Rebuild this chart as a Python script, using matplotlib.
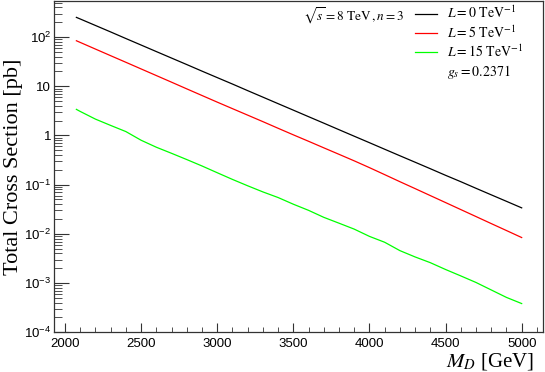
import matplotlib
matplotlib.use('Agg')
import matplotlib.pyplot as plt
from matplotlib.lines import Line2D
from matplotlib.ticker import FixedLocator, LogLocator, NullFormatter, MultipleLocator

plt.rcParams['font.family'] = ['Liberation Sans', 'DejaVu Sans']
plt.rcParams['mathtext.fontset'] = 'custom'
plt.rcParams['mathtext.rm'] = 'Liberation Sans'
plt.rcParams['mathtext.it'] = 'Liberation Sans:italic'

# M_D in GeV
m_d = [2075, 2100, 2200, 2300, 2400, 2500, 2600, 2700, 2800, 2900, 3000,
       3100, 3200, 3300, 3400, 3500, 3600, 3700, 3800, 3900, 4000,
       4100, 4200, 4300, 4400, 4500, 4600, 4700, 4800, 4900, 5000]

# total cross section in pb
xs_l0 = [251, 233, 172, 127, 93.3, 68.8, 50.7, 37.4, 27.6, 20.3, 15.0,
         11.1, 8.15, 6.01, 4.43, 3.27, 2.41, 1.78, 1.31, 0.966, 0.713,
         0.525, 0.387, 0.286, 0.211, 0.155, 0.115, 0.0844, 0.0622, 0.0459, 0.0338]
xs_l5 = [84.1, 77.8, 57.0, 41.8, 30.7, 22.5, 16.5, 12.1, 8.85, 6.49, 4.76,
         3.51, 2.59, 1.91, 1.40, 1.03, 0.762, 0.561, 0.414, 0.305, 0.222,
         0.160, 0.115, 0.0832, 0.060, 0.0433, 0.0312, 0.0225, 0.0162, 0.0117, 0.00843]
xs_l15 = [3.39, 3.08, 2.15, 1.60, 1.20, 0.80, 0.577, 0.434, 0.324, 0.240, 0.175,
          0.128, 0.095, 0.0713, 0.0548, 0.0401, 0.0301, 0.0217, 0.0165, 0.0125, 0.0089,
          0.00676, 0.00457, 0.0034, 0.0026, 0.00189, 0.0014, 0.00103, 0.000726, 0.000512, 0.000384]

y_ticks = [1e-4, 1e-3, 1e-2, 1e-1, 1, 10, 100]
y_labels = ['$10^{-4}$', '$10^{-3}$', '$10^{-2}$', '$10^{-1}$', '1', '10', '$10^{2}$']
x_ticks = [2000, 2500, 3000, 3500, 4000, 4500, 5000]

fig = plt.figure(figsize=(5.45, 3.72), dpi=100)
ax = fig.add_axes([0.0991, 0.1067, 0.8972, 0.8906])

ax.plot(m_d, xs_l0, color='black', lw=0.9)
ax.plot(m_d, xs_l5, color='#ff0000', lw=0.9)
ax.plot(m_d, xs_l15, color='#00ff00', lw=0.9)

ax.set_yscale('log')
ax.set_xlim(1928, 5140)
ax.set_ylim(1e-4, 540)

ax.yaxis.set_major_locator(FixedLocator(y_ticks))
ax.set_yticklabels(y_labels)
ax.yaxis.set_minor_locator(LogLocator(base=10, subs=range(2, 10), numticks=20))
ax.yaxis.set_minor_formatter(NullFormatter())
ax.set_xticks(x_ticks)
ax.set_xticklabels([str(v) for v in x_ticks])
ax.xaxis.set_minor_locator(MultipleLocator(100))

ax.tick_params(axis='both', which='both', direction='in', top=False, right=False,
               labelsize=9.5, color='#333333')
ax.tick_params(axis='y', which='major', length=11, pad=2)
ax.tick_params(axis='y', which='minor', length=6)
ax.tick_params(axis='x', which='major', length=6.5, pad=4)
ax.tick_params(axis='x', which='minor', length=3.3)
for sp in ax.spines.values():
    sp.set_linewidth(0.9)
    sp.set_color('#333333')

yl = ax.set_ylabel('Total Cross Section [pb]', family='Liberation Serif', fontsize=16)
ax.yaxis.set_label_coords(-0.063, 0.5)
xl = ax.set_xlabel(r'$M_D$ [GeV]', family='Liberation Serif', fontsize=15, labelpad=0)
xl.set_math_fontfamily('stix')
ax.xaxis.set_label_coords(0.983, -0.055)
ax.xaxis.label.set_horizontalalignment('right')

handles = [Line2D([], [], color='black', lw=0.9),
           Line2D([], [], color='#ff0000', lw=0.9),
           Line2D([], [], color='#00ff00', lw=0.9),
           Line2D([], [], color='none')]
labels = [r'$L = 0\ \mathrm{TeV}^{-1}$', r'$L = 5\ \mathrm{TeV}^{-1}$',
          r'$L = 15\ \mathrm{TeV}^{-1}$', r'$g_s = 0.2371$']
leg = ax.legend(handles, labels, loc='upper left', bbox_to_anchor=(0.738, 0.988),
                frameon=False, fontsize=10, handlelength=1.58, handletextpad=0.72,
                labelspacing=0.2, borderaxespad=0, borderpad=0)
for t in leg.get_texts():
    t.set_math_fontfamily('stix')

st = ax.text(0.509, 0.985, r'$\sqrt{s} = 8\ \mathrm{TeV}\,, n = 3$', transform=ax.transAxes,
             fontsize=9.5, ha='left', va='top')
st.set_math_fontfamily('stix')

fig.savefig('out.png', dpi=100)
